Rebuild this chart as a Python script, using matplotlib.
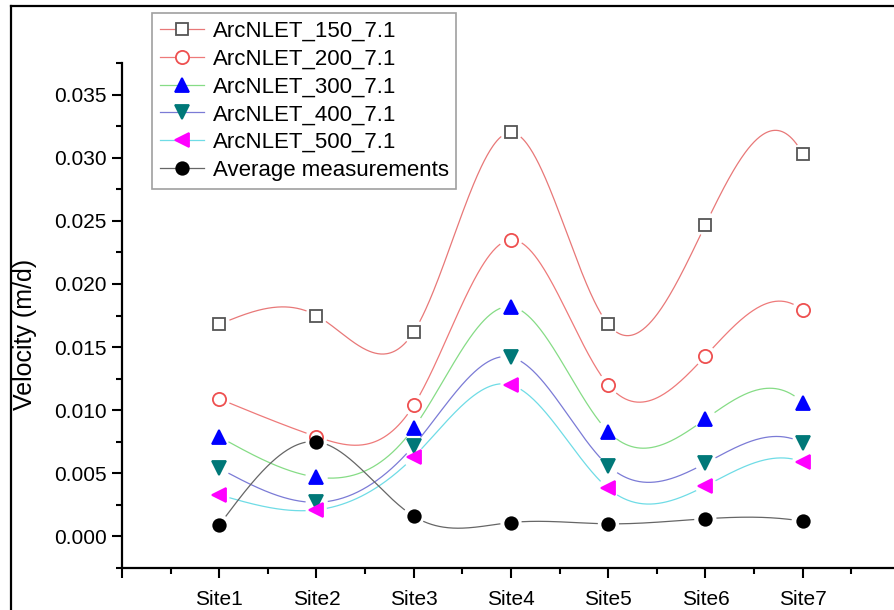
import numpy as np
import matplotlib
matplotlib.use("Agg")
import matplotlib.pyplot as plt
from matplotlib.lines import Line2D

plt.rcParams['font.family'] = ['Liberation Sans', 'DejaVu Sans']

sites = ["Site1", "Site2", "Site3", "Site4", "Site5", "Site6", "Site7"]
arc150 = [0.0168, 0.0175, 0.0162, 0.0320, 0.0168, 0.0247, 0.0303]
arc200 = [0.0109, 0.0079, 0.0104, 0.0235, 0.0120, 0.0143, 0.0179]
arc300 = [0.0079, 0.0047, 0.0086, 0.0182, 0.0083, 0.0093, 0.0106]
arc400 = [0.0054, 0.0027, 0.0072, 0.0142, 0.0056, 0.0058, 0.0074]
arc500 = [0.0033, 0.0021, 0.0063, 0.0120, 0.0038, 0.0040, 0.0059]
avg = [0.0009, 0.0075, 0.0016, 0.0011, 0.0010, 0.0014, 0.0012]

labels = ["ArcNLET_150_7.1", "ArcNLET_200_7.1", "ArcNLET_300_7.1",
          "ArcNLET_400_7.1", "ArcNLET_500_7.1", "Average measurements"]


def spline(x, y, xs):
    """Cubic spline: natural at the left end, not-a-knot at the right end."""
    x = np.asarray(x, float); y = np.asarray(y, float)
    n = len(x)
    h = np.diff(x)
    A = np.zeros((n, n)); b = np.zeros(n)
    A[0, 0] = 1.0
    A[-1, -3] = h[-1]; A[-1, -2] = -(h[-2] + h[-1]); A[-1, -1] = h[-2]
    for i in range(1, n - 1):
        A[i, i - 1] = h[i - 1]
        A[i, i] = 2 * (h[i - 1] + h[i])
        A[i, i + 1] = h[i]
        b[i] = 6 * ((y[i + 1] - y[i]) / h[i] - (y[i] - y[i - 1]) / h[i - 1])
    M = np.linalg.solve(A, b)
    out = np.empty_like(xs)
    for k, t in enumerate(xs):
        i = min(max(np.searchsorted(x, t) - 1, 0), n - 2)
        a = x[i + 1] - t; c = t - x[i]
        out[k] = (M[i] * a**3 / (6 * h[i]) + M[i + 1] * c**3 / (6 * h[i])
                  + (y[i] / h[i] - M[i] * h[i] / 6) * a
                  + (y[i + 1] / h[i] - M[i + 1] * h[i] / 6) * c)
    return out


W, H = 895, 610
fig = plt.figure(figsize=(W / 100, H / 100), dpi=100)
ax = fig.add_axes([122 / W, (H - 568) / H, 778 / W, (568 - 63) / H])
ax.set_xlim(0, 8)
ax.set_ylim(-0.0025, 0.0375)

xpos = np.arange(1, len(sites) + 1)
series = [arc150, arc200, arc300, arc400, arc500, avg]
line_colors = ["#e87878", "#ee7a7a", "#86dc86", "#7b7bd6", "#6fdce6", "#666666"]
markers = ["s", "o", "^", "v", "<", "o"]
mfc = ["white", "white", "#0000ff", "#007878", "#ff00ff", "black"]
mec = ["#555555", "#ee5050", "#0000ff", "#007878", "#ff00ff", "black"]
msz = [8.5, 9.5, 10.5, 10.5, 10.5, 9]

xs = np.linspace(1, 7, 600)
handles = []
for vals, lc, mk, fc, ec, ms, lab in zip(series, line_colors, markers, mfc, mec, msz, labels):
    ys = spline(xpos, vals, xs)
    disp = ax.transData.transform(np.column_stack([xs, ys]))
    mdisp = ax.transData.transform(np.column_stack([xpos, vals]))
    d = np.min(np.hypot(disp[:, None, 0] - mdisp[None, :, 0],
                        disp[:, None, 1] - mdisp[None, :, 1]), axis=1)
    ysm = ys.copy()
    ysm[d < 11] = np.nan
    ax.plot(xs, ysm, color=lc, lw=0.9, zorder=2)
    ax.plot(xpos, vals, linestyle="none", marker=mk, markersize=ms,
            markerfacecolor=fc, markeredgecolor=ec, markeredgewidth=1.3, zorder=3)
    handles.append(Line2D([], [], color=lc, lw=0.9, marker=mk, markersize=ms,
                          markerfacecolor=fc, markeredgecolor=ec, markeredgewidth=1.3))

for s in ["top", "right"]:
    ax.spines[s].set_visible(False)
for s in ["left", "bottom"]:
    ax.spines[s].set_linewidth(1.6)

ax.set_xticks(np.arange(0, 9))
ax.set_xticklabels([""] + sites + [""])
ax.set_xticks(np.arange(0.5, 8, 1), minor=True)
ax.set_yticks(np.arange(0, 0.0351, 0.005))
ax.set_yticklabels(["%.3f" % v for v in np.arange(0, 0.0351, 0.005)])
ax.set_yticks(np.arange(-0.0025, 0.0376, 0.005), minor=True)
ax.tick_params(axis="both", which="major", direction="out", length=7, width=1.5,
               labelsize=15, colors="black")
ax.tick_params(axis="both", which="minor", direction="out", length=4, width=1.5)
ax.tick_params(axis="x", pad=9)
ax.tick_params(axis="y", pad=4)

ax.set_ylabel("Velocity (m/d)", fontsize=18)
ax.yaxis.set_label_coords((37 - 122) / 778, (568 - 334) / 505)

leg = ax.legend(handles, labels, loc="upper left",
                bbox_to_anchor=((152 - 122) / 778, (568 - 13) / 505),
                fontsize=16, frameon=True, fancybox=False, handlelength=2.0,
                handletextpad=0.4, labelspacing=0.31, borderpad=0.34,
                borderaxespad=0)
leg.get_frame().set_edgecolor("#888888")
leg.get_frame().set_linewidth(1.2)

# outer frame (cropped screenshot border)
fig.add_artist(Line2D([11 / W, 11 / W], [0, 1 - 6 / H], color="black", lw=1.6,
                      transform=fig.transFigure))
fig.add_artist(Line2D([11 / W, 1], [1 - 6 / H, 1 - 6 / H], color="black", lw=1.6,
                      transform=fig.transFigure))

fig.savefig("out.png", dpi=100)
